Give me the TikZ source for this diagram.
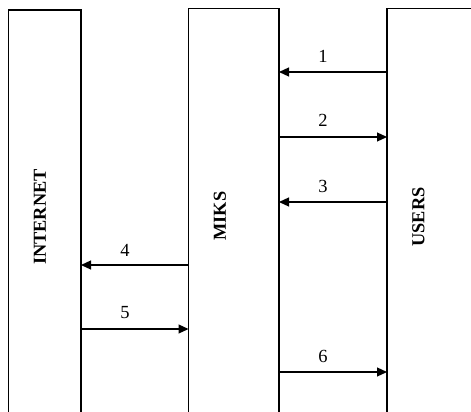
\documentclass[tikz,border=0pt]{standalone}
\usepackage{fontspec}
\setmainfont{Liberation Serif}
\usetikzlibrary{arrows.meta}
\begin{document}
\begin{tikzpicture}[x=1pt,y=-1pt,
  col/.style={draw=black, line width=1.2pt},
  msg/.style={-{Triangle[length=10pt,width=9pt]}, line width=1.2pt},
  lbl/.style={font=\fontsize{18.5}{20}\selectfont, inner sep=0pt},
  colname/.style={font=\fontsize{18.3}{20}\selectfont\bfseries, rotate=90, inner sep=0pt}]
\useasboundingbox (0,0) rectangle (471,412);
% columns
\draw[col] (8.5,414) -- (8.5,10) -- (81,10) -- (81,414);
\draw[col] (188.5,414) -- (188.5,8.5) -- (279,8.5) -- (279,414);
\draw[col] (387,414) -- (387,8.5) -- (472,8.5);
% column names
\node[colname] (internet) at (40,217) {INTERNET};
\node[colname] (miks) at (220,216) {MIKS};
\node[colname] (users) at (418.5,217) {USERS};
% connector end points
\coordinate (u1) at (387,72);   \coordinate (m1) at (279,72);
\coordinate (u2) at (387,137);  \coordinate (m2) at (279,137);
\coordinate (u3) at (387,202);  \coordinate (m3) at (279,202);
\coordinate (m4) at (188.5,265); \coordinate (i4) at (81,265);
\coordinate (m5) at (188.5,329); \coordinate (i5) at (81,329);
\coordinate (u6) at (387,372);  \coordinate (m6) at (279,372);
% messages
\draw[msg] (u1) -- (m1);
\draw[msg] (m2) -- (u2);
\draw[msg] (u3) -- (m3);
\draw[msg] (m4) -- (i4);
\draw[msg] (i5) -- (m5);
\draw[msg] (m6) -- (u6);
% labels
\node[lbl] (l1) at (323,56) {1};
\node[lbl] (l2) at (323,120) {2};
\node[lbl] (l3) at (323,186) {3};
\node[lbl] (l4) at (125,250) {4};
\node[lbl] (l5) at (125,313) {5};
\node[lbl] (l6) at (323,356) {6};
\end{tikzpicture}
\end{document}
